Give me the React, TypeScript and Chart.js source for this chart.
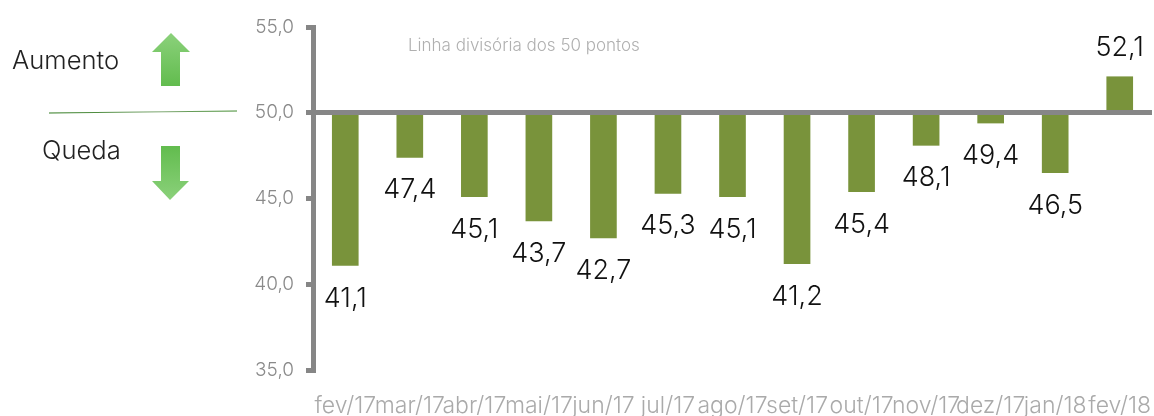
import React, { useEffect, useRef } from "react";
import { Chart, registerables } from "chart.js";

Chart.register(...registerables);

const categories = ["fev/17", "mar/17", "abr/17", "mai/17", "jun/17", "jul/17", "ago/17", "set/17", "out/17", "nov/17", "dez/17", "jan/18", "fev/18"];
const values = [41.1, 47.4, 45.1, 43.7, 42.7, 45.3, 45.1, 41.2, 45.4, 48.1, 49.4, 46.5, 52.1];
const yTicks = [35, 40, 45, 50, 55];
const BASELINE = 50;
const FONT = "Inter";
const AXIS = "#868686";

const fmt = (v: number) => v.toFixed(1).replace(".", ",");

const arrow = (ctx: CanvasRenderingContext2D, up: boolean) => {
  const pts = up
    ? [[171, 33], [190, 52], [180, 52], [180, 86], [161, 86], [161, 52], [152, 52]]
    : [[161, 146], [180, 146], [180, 181], [189, 181], [170, 200], [152, 181], [161, 181]];
  const g = ctx.createLinearGradient(0, up ? 33 : 146, 0, up ? 86 : 200);
  g.addColorStop(0, up ? "#8bd17b" : "#62bc4e");
  g.addColorStop(1, up ? "#62bc4e" : "#8bd17b");
  ctx.beginPath();
  pts.forEach(([x, y], i) => (i ? ctx.lineTo(x, y) : ctx.moveTo(x, y)));
  ctx.closePath();
  ctx.fillStyle = g;
  ctx.fill();
};

const decorations = {
  id: "decorations",
  afterDraw(chart: any) {
    const { ctx } = chart;
    const x = chart.scales.x;
    const y = chart.scales.y;
    ctx.save();
    ctx.textAlign = "center";
    ctx.textBaseline = "middle";
    ctx.fillStyle = "#111";
    ctx.font = `300 27px ${FONT}`;
    chart.getDatasetMeta(0).data.forEach((_: any, i: number) => {
      const v = values[i];
      const py = y.getPixelForValue(v) + (v < BASELINE ? 33 : -29);
      ctx.fillText(fmt(v), x.getPixelForValue(i), py);
    });

    ctx.textAlign = "left";
    ctx.font = `300 25.6px ${FONT}`;
    ctx.fillStyle = "#222";
    ctx.fillText("Aumento", 12, 61);
    ctx.fillText("Queda", 42, 151);
    ctx.font = `300 17px ${FONT}`;
    ctx.fillStyle = "#b0b0b0";
    ctx.fillText("Linha divisória dos 50 pontos", 408, 46);

    arrow(ctx, true);
    arrow(ctx, false);

    const lg = ctx.createLinearGradient(49, 0, 237, 0);
    lg.addColorStop(0, "#2f7a1e");
    lg.addColorStop(0.6, "#7fa873");
    lg.addColorStop(1, "#3f8a2c");
    ctx.strokeStyle = lg;
    ctx.lineWidth = 1.2;
    ctx.beginPath();
    ctx.moveTo(49, 113);
    ctx.lineTo(237, 111);
    ctx.stroke();
    ctx.restore();
  },
};

export default function App() {
  const ref = useRef<HTMLCanvasElement>(null);
  useEffect(() => {
    const chart = new Chart(ref.current!, {
      type: "bar",
      data: {
        labels: categories,
        datasets: [{ data: values, base: BASELINE, backgroundColor: "#79933b", barThickness: 26, borderWidth: 0 }],
      },
      options: {
        animation: false,
        responsive: false,
        layout: { padding: { top: 27, right: 2, left: 0, bottom: 0 } },
        plugins: { legend: { display: false }, tooltip: { enabled: false } },
        scales: {
          x: {
            afterFit: (s: any) => { s.height = 46; s.paddingLeft = 0; s.paddingRight = 0; },
            grid: { display: false, drawTicks: false },
            border: { display: false },
            ticks: {
              autoSkip: false,
              maxRotation: 0,
              minRotation: 0,
              padding: 22,
              color: "#aaa",
              font: { family: FONT, size: 23, weight: "300" },
            },
          },
          y: {
            min: 35,
            max: 55,
            afterFit: (s: any) => { s.width = 313; },
            afterBuildTicks: (s: any) => { s.ticks = yTicks.map((value) => ({ value })); },
            border: { display: true, color: AXIS, width: 5, z: 2 },
            grid: {
              z: 1,
              drawOnChartArea: true,
              lineWidth: 5,
              tickLength: 7,
              tickColor: AXIS,
              color: (c: any) => (c.tick && c.tick.value === BASELINE ? AXIS : "rgba(0,0,0,0)"),
            },
            ticks: {
              color: "#8a8a8a",
              padding: 12,
              font: { family: FONT, size: 19, weight: "300" },
              callback: (v: any) => fmt(Number(v)),
            },
          },
        },
      },
      plugins: [decorations],
    } as any);
    return () => chart.destroy();
  }, []);
  return <canvas ref={ref} width={1154} height={416} style={{ position: "fixed", left: 0, top: 0, display: "block" }} />;
}
